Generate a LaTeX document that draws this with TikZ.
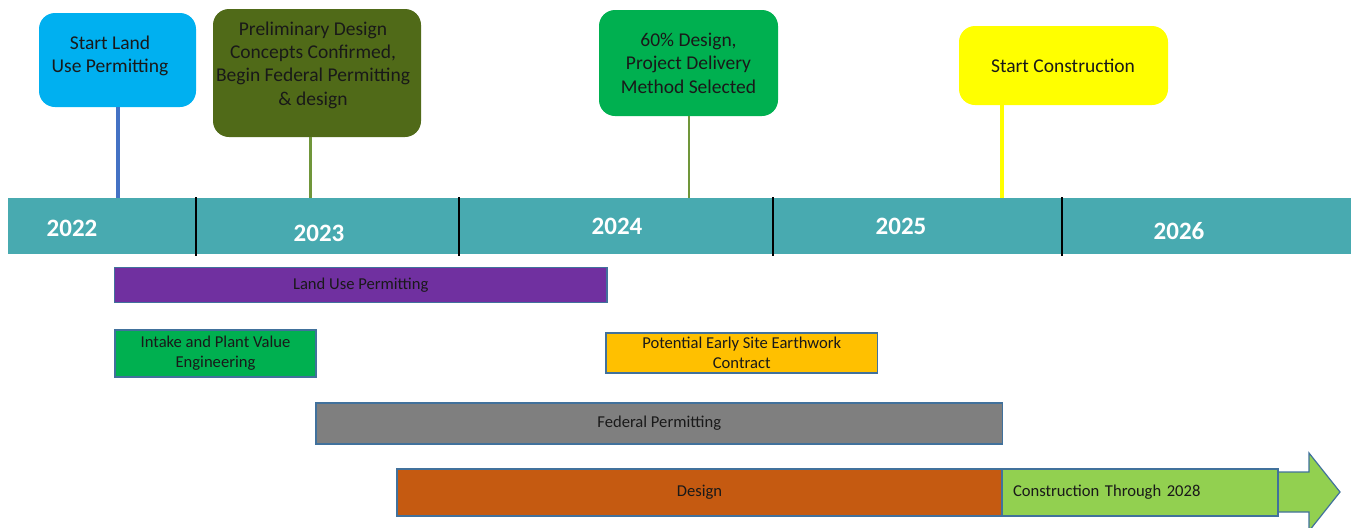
\documentclass[tikz,border=0pt]{standalone}
\usepackage{fontspec}
\setmainfont{Carlito}
\usepackage{tikz}
\usetikzlibrary{positioning}
\definecolor{cTeal}{RGB}{72,170,176}
\definecolor{cCyan}{RGB}{0,176,240}
\definecolor{cOlive}{RGB}{80,106,24}
\definecolor{cGreen}{RGB}{0,176,80}
\definecolor{cYellow}{RGB}{255,255,0}
\definecolor{cStemBlue}{RGB}{68,114,196}
\definecolor{cStemGreen}{RGB}{112,150,58}
\definecolor{cPurple}{RGB}{112,48,160}
\definecolor{cAmber}{RGB}{255,192,0}
\definecolor{cGrey}{RGB}{127,127,127}
\definecolor{cRust}{RGB}{197,90,17}
\definecolor{cLime}{RGB}{146,208,80}
\definecolor{cBorder}{RGB}{65,113,156}
\tikzset{
	callout/.style ={rectangle, rounded corners=8pt, inner sep=0pt},
	calltext/.style={align=center, inner sep=0pt, font=\fontsize{9.75}{11.7}\selectfont, text=black!90},
	stem/.style    ={line cap=butt},
	% bar chart styles
	bar/.style     ={rectangle, draw=cBorder, line width=0.6pt, inner sep=0pt, align=center, font=\fontsize{8.3}{10}\selectfont, text=black!90},
	divider/.style ={line width=1.2pt, black},
	yearlbl/.style ={text=white, inner sep=0pt, font=\fontsize{12.5}{15}\selectfont\bfseries},
}

\begin{document}
\begin{tikzpicture}[x=0.5pt, y=-0.5pt]
	\useasboundingbox (0,0) rectangle (1351,527);
	% timeline
	\node[fill=cTeal, minimum width=671.5pt, minimum height=28pt, inner sep=0pt] (tl) at (679.5,226) {};
	\foreach \x in {196,459,773,1062}
		\draw[divider] (\x,197) -- (\x,256);
	\foreach \x/\y/\yr in {72/228/2022, 319/233/2023, 617/226/2024, 901/226/2025, 1179/231/2026}
		\node[yearlbl] (y\yr) at (\x,\y) {\yr};
	% milestones
	\node[callout, fill=cCyan, minimum width=78.5pt, minimum height=47pt] (c1) at (117.5,60) {};
	\node[calltext] (t1) at (110,56) {Start Land\\Use Permitting};
	\node[callout, fill=cOlive, minimum width=104pt, minimum height=64pt] (c2) at (317,73) {};
	\node[calltext] (t2) at (313,65) {Preliminary Design\\Concepts Confirmed,\\Begin Federal Permitting\\\& design};
	\node[callout, fill=cGreen, minimum width=89.5pt, minimum height=53pt] (c3) at (688.5,63) {};
	\node[calltext] (t3) at (688.5,63) {60\% Design,\\Project Delivery\\Method Selected};
	\node[callout, fill=cYellow, minimum width=104.5pt, minimum height=39.5pt] (c4) at (1063.5,65.5) {};
	\node[calltext] (t4) at (1063,66) {Start Construction};
	\coordinate (m1) at (118,198);
	\coordinate (m2) at (310,198);
	\coordinate (m3) at (689,198);
	\coordinate (m4) at (1002,198);
	\draw[stem, line width=2pt, cStemBlue] (m1 |- c1.south) -- (m1);
	\draw[stem, line width=1.5pt, cStemGreen] (m2 |- c2.south) -- (m2);
	\draw[stem, line width=1.2pt, cStemGreen] (m3 |- c3.south) -- (m3);
	\draw[stem, line width=2pt, cYellow] (m4 |- c4.south) -- (m4);
	% activity bars
	\node[bar, fill=cPurple, minimum width=246.25pt, minimum height=17.5pt] (lup) at (360.75,285) {Land Use Permitting};
	\node[bar, fill=cGreen, minimum width=100.5pt, minimum height=23.5pt] (ive) at (215.5,353.5) {Intake and Plant Value\\Engineering};
	\node[bar, fill=cAmber, minimum width=135.75pt, minimum height=20pt] (esw) at (741.75,353) {Potential Early Site Earthwork\\Contract};
	\node[bar, fill=cGrey, minimum width=343.25pt, minimum height=20.5pt] (fed) at (659.25,423.5) {Federal Permitting};
	\node[bar, fill=cRust, minimum width=302.5pt, minimum height=23.5pt] (des) at (699.5,492.5) {Design};
	\filldraw[fill=cLime, draw=cBorder, line width=0.6pt] (1270,472) -- (1309,472) -- (1309,453) -- (1340,492) -- (1309,531) -- (1309,512) -- (1270,512) -- cycle;
	\node[bar, fill=cLime, minimum width=138pt, minimum height=23.5pt, inner xsep=5.5pt, text width=127pt, align=left] (con) at (1140,492.5) {Construction Through 2028};
\end{tikzpicture}
\end{document}
